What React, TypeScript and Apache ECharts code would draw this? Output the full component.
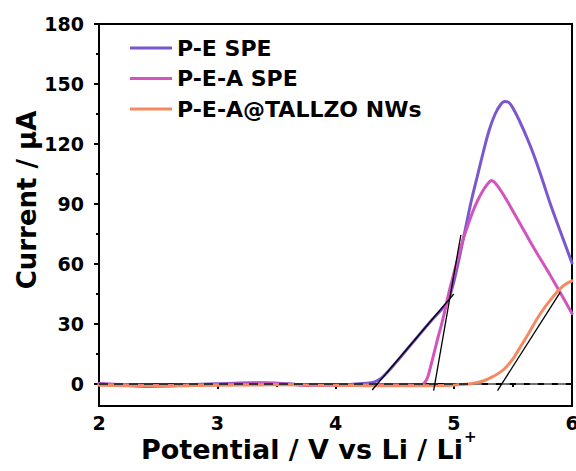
import React, { useEffect, useRef } from "react";
import * as echarts from "echarts";

// ---- data ----
const peX = [2.0, 2.2, 2.4, 2.6, 2.8, 3.0, 3.2, 3.4, 3.6, 3.8, 4.0, 4.1, 4.2, 4.3, 4.35, 4.4, 4.5, 4.6, 4.7, 4.8, 4.9, 4.95, 5.0, 5.05, 5.1, 5.15, 5.2, 5.25, 5.3, 5.35, 5.4, 5.43, 5.46, 5.5, 5.56, 5.62, 5.68, 5.75, 5.82, 5.9, 5.95, 6.0];
const peY = [0.2, -0.5, -1.2, -1.0, -0.3, 0.1, 0.5, 0.6, 0.1, -0.8, -0.6, -0.2, 0.1, 0.6, 1.6, 3.6, 10, 17, 24, 31, 37.5, 41.5, 51, 64, 78, 92, 104, 116, 127, 135, 140, 141.3, 141, 138, 131, 123, 114, 102, 89.5, 76.5, 68.5, 60.5];

const peaX = [2.0, 2.3, 2.6, 3.0, 3.4, 3.8, 4.0, 4.3, 4.6, 4.7, 4.74, 4.76, 4.78, 4.81, 4.84, 4.87, 4.9, 4.93, 4.96, 5.0, 5.04, 5.08, 5.12, 5.16, 5.2, 5.25, 5.3, 5.32, 5.35, 5.4, 5.45, 5.5, 5.56, 5.67, 5.79, 5.9, 6.0];
const peaY = [0, -0.4, -0.6, -0.2, 0.2, -0.6, -0.8, -0.3, -0.4, -0.6, 0, 1.2, 3.5, 10, 17, 24, 30.5, 38, 46, 55, 64, 72.5, 79.5, 86, 91.5, 97, 101, 101.8, 100.5, 96.5, 91.7, 86.5, 80.3, 68.7, 57, 45.7, 35.3];

const nwX = [2.0, 2.5, 3.0, 3.5, 4.0, 4.5, 4.9, 5.05, 5.16, 5.25, 5.33, 5.4, 5.45, 5.5, 5.53, 5.62, 5.73, 5.84, 5.93, 6.0];
const nwY = [-0.6, -0.9, -0.6, -0.4, -0.6, -0.9, -0.8, -0.3, 0.3, 1.5, 3.7, 6.2, 8.9, 12.5, 15.3, 24, 35, 43.7, 49.3, 51.6];

const tangent1X = [4.31, 5.0];
const tangent1Y = [-3, 45];
const tangent2X = [4.83, 5.06];
const tangent2Y = [-3.3, 74.5];
const tangent3X = [5.37, 5.9];
const tangent3Y = [-3.3, 45.8];

const baseDarkX = [2, 5.17];
const baseGrayX = [5.17, 6];
const baseY = [0, 0];

const seriesNames = ["P-E SPE", "P-E-A SPE", "P-E-A@TALLZO NWs"];
const yTickValues = [0, 30, 60, 90, 120, 150, 180];
const yMinorValues = [15, 45, 75, 105, 135, 165];
const xTitle = "Potential / V vs Li / Li";
const xTitleSup = "+";
const yTitle = "Current / μA";

const zip = (xs: number[], ys: number[]) => xs.map((x, i) => [x, ys[i]]);

const FONT = "DejaVu Sans";

export default function App() {
  const ref = useRef<HTMLDivElement>(null);
  useEffect(() => {
    if (!ref.current) return;
    const chart = echarts.init(ref.current, undefined, { renderer: "svg" });
    const curve = (name: string, xs: number[], ys: number[], color: string) => ({
      name,
      type: "line",
      data: zip(xs, ys),
      showSymbol: false,
      smooth: 0.4,
      lineStyle: { color, width: 3, join: "round", cap: "round" },
      itemStyle: { color },
      z: 3,
    });
    const straight = (xs: number[], ys: number[], color: string, width: number, type: any, z = 5) => ({
      type: "line",
      data: zip(xs, ys),
      showSymbol: false,
      silent: true,
      lineStyle: { color, width, type },
      z,
    });
    chart.setOption({
      animation: false,
      grid: {
        left: 99,
        right: 4,
        top: 24,
        bottom: 65,
        show: true,
        borderColor: "#000",
        borderWidth: 2,
        containLabel: false,
        outerBoundsMode: "none",
      },
      legend: {
        data: seriesNames,
        orient: "vertical",
        left: 130,
        top: 37,
        padding: 0,
        itemWidth: 42,
        itemHeight: 3,
        itemGap: 8.5,
        icon: "rect",
        textStyle: { fontFamily: FONT, fontWeight: "bold", fontSize: 22, color: "#000" },
      },
      xAxis: {
        type: "value",
        min: 2,
        max: 6,
        interval: 1,
        axisLine: { show: true, lineStyle: { color: "#000", width: 2 } },
        axisTick: { show: true, length: 5, lineStyle: { color: "#000", width: 2 } },
        minorTick: { show: true, splitNumber: 2, length: 3, lineStyle: { color: "#000", width: 2 } },
        axisLabel: { fontFamily: FONT, fontWeight: "bold", fontSize: 19, color: "#000", margin: 7, showMaxLabel: true },
        splitLine: { show: false },
      },
      yAxis: [
        {
          type: "value",
          min: -11,
          max: 180,
          axisLine: { show: true, lineStyle: { color: "#000", width: 2 } },
          axisTick: { show: true, length: 5, customValues: yTickValues, lineStyle: { color: "#000", width: 2 } },
          axisLabel: { fontFamily: FONT, fontWeight: "bold", fontSize: 19, color: "#000", margin: 15, customValues: yTickValues },
          splitLine: { show: false },
        },
        {
          type: "value",
          min: -11,
          max: 180,
          position: "left",
          offset: 0,
          axisLine: { show: false },
          axisTick: { show: true, length: 3, customValues: yMinorValues, lineStyle: { color: "#000", width: 2 } },
          axisLabel: { show: false },
          splitLine: { show: false },
        },
      ],
      graphic: [
        {
          type: "text",
          left: 141,
          top: 436,
          style: { text: xTitle, fontFamily: FONT, fontWeight: "bold", fontSize: 27, fill: "#000" },
        },
        {
          type: "text",
          left: 464,
          top: 429,
          style: { text: xTitleSup, fontFamily: FONT, fontWeight: "bold", fontSize: 15, fill: "#000" },
        },
        {
          type: "text",
          x: 27,
          y: 200,
          rotation: Math.PI / 2,
          style: {
            text: yTitle,
            fontFamily: FONT,
            fontWeight: "bold",
            fontSize: 26,
            fill: "#000",
            align: "center",
            verticalAlign: "middle",
          },
        },
      ],
      series: [
        curve(seriesNames[0], peX, peY, "#7b57cf"),
        curve(seriesNames[1], peaX, peaY, "#d254bd"),
        curve(seriesNames[2], nwX, nwY, "#f58a62"),
        straight(baseGrayX, baseY, "#9a9a9a", 1.5, [8, 6], 4),
        straight(baseDarkX, baseY, "#333", 1.8, [9, 6], 4),
        straight(tangent1X, tangent1Y, "#000", 1.3, "solid"),
        straight(tangent2X, tangent2Y, "#000", 1.3, "solid"),
        straight(tangent3X, tangent3Y, "#000", 1.3, "solid"),
      ],
    });
    return () => chart.dispose();
  }, []);
  return <div ref={ref} style={{ position: "absolute", left: 0, top: 0, width: 576, height: 471 }} />;
}
